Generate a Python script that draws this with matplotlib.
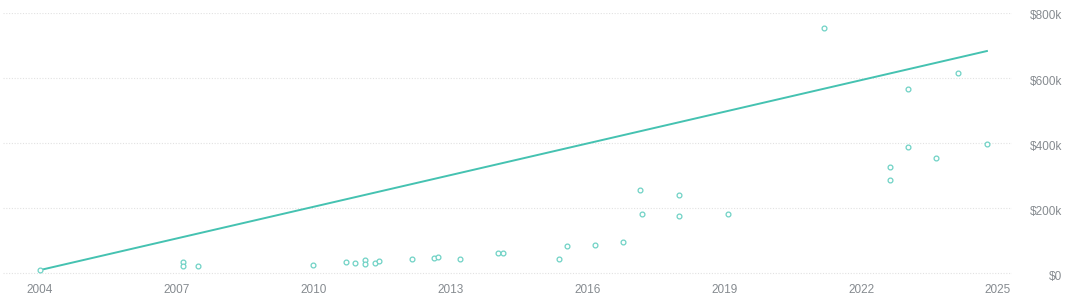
import matplotlib.pyplot as plt
from matplotlib.ticker import FuncFormatter
from matplotlib.transforms import ScaledTranslation

# sale date (decimal year) and price in dollars
sale_years = [
    2004.0, 2007.13, 2007.13, 2007.46, 2009.98, 2010.71, 2010.90, 2011.12, 2011.12,
    2011.34, 2011.43, 2012.15, 2012.64, 2012.72, 2013.21, 2014.04, 2014.15, 2015.38,
    2015.55, 2016.17, 2016.78, 2017.15, 2017.19, 2018.0, 2018.0, 2019.08, 2021.19,
    2022.63, 2022.63, 2023.03, 2023.03, 2023.64, 2024.12, 2024.76,
]
sale_prices = [
    9e3, 34e3, 22e3, 22e3, 25e3, 34e3, 31e3, 40e3, 28e3,
    31e3, 37e3, 43e3, 46e3, 49e3, 43e3, 62e3, 62e3, 43e3,
    83e3, 86e3, 95e3, 255e3, 182e3, 240e3, 175e3, 182e3, 754e3,
    326e3, 286e3, 566e3, 388e3, 354e3, 615e3, 397e3,
]

trend_years = [2004.0, 2024.76]
trend_prices = [9e3, 683e3]

x_ticks = [2004, 2007, 2010, 2013, 2016, 2019, 2022, 2025]
y_ticks = [0, 200e3, 400e3, 600e3, 800e3]

teal = "#45c2b1"
dot = "#6fd2c5"
grey = "#868b90"

fig = plt.figure(figsize=(10.71, 2.99), dpi=100)
ax = fig.add_axes([3 / 1071, 1 - 276 / 299, 1009 / 1071, 263 / 299])

ax.plot(trend_years, trend_prices, color=teal, lw=1.4, zorder=3)
ax.scatter(sale_years, sale_prices, s=12, facecolors="white", edgecolors=dot,
           linewidths=0.9, zorder=4)

ax.set_xlim(2003.19, 2025.31)
ax.set_ylim(-9.2e3, 800e3)
ax.set_xticks(x_ticks)
ax.set_yticks(y_ticks)
ax.yaxis.tick_right()
ax.yaxis.set_major_formatter(FuncFormatter(lambda v, p: "$0" if v == 0 else "${:.0f}k".format(v / 1e3)))

ax.grid(axis="y", color="#e2e2e2", linestyle=(0, (1, 1.5)), linewidth=0.8)
ax.set_axisbelow(True)
for s in ax.spines.values():
    s.set_visible(False)

ax.tick_params(axis="x", length=0, pad=6, labelsize=8.5, labelcolor=grey)
ax.tick_params(axis="y", length=0, pad=36, labelsize=8.5, labelcolor=grey)
shift = ScaledTranslation(0, -2 / 100, fig.dpi_scale_trans)
for lab in ax.get_yticklabels():
    lab.set_horizontalalignment("right")
    lab.set_transform(lab.get_transform() + shift)
for lab in ax.get_xticklabels() + ax.get_yticklabels():
    lab.set_fontfamily("Liberation Sans")

fig.savefig("out.png", dpi=100)
